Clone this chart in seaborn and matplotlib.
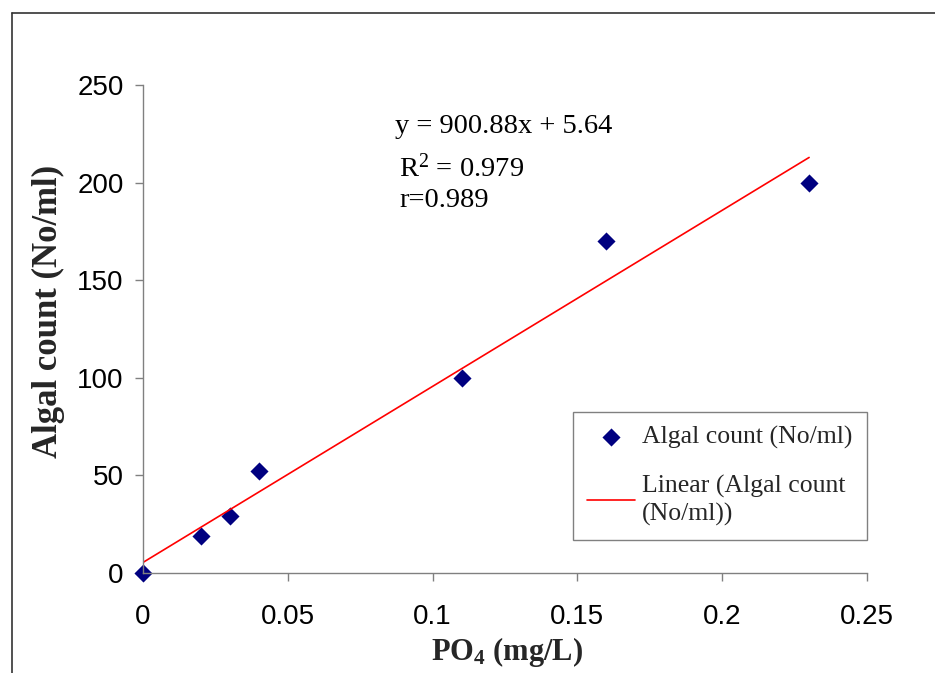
import matplotlib
matplotlib.use("Agg")
import matplotlib.pyplot as plt
from matplotlib.lines import Line2D
import seaborn as sns
import pandas as pd

# PO4 concentration vs algal count
po4 = [0.0, 0.02, 0.03, 0.04, 0.11, 0.16, 0.23]
algal_count = [0, 19, 29, 52, 100, 170, 200]
x_ticks = [0, 0.05, 0.1, 0.15, 0.2, 0.25]
x_tick_labels = ["0", "0.05", "0.1", "0.15", "0.2", "0.25"]
y_ticks = [0, 50, 100, 150, 200, 250]

df = pd.DataFrame({"PO4": po4, "Algal": algal_count})

sns.set_theme(style="white")
plt.rcParams["font.family"] = ["Liberation Sans", "DejaVu Sans"]
plt.rcParams["mathtext.fontset"] = "custom"
plt.rcParams["mathtext.rm"] = "Liberation Serif"
plt.rcParams["mathtext.it"] = "Liberation Serif:italic"
plt.rcParams["mathtext.bf"] = "Liberation Serif:bold"

fig = plt.figure(figsize=(9.35, 6.73), dpi=100)
ax = fig.add_axes([0.1529, 0.1486, 0.7744, 0.7251])

sns.regplot(data=df, x="PO4", y="Algal", ax=ax, ci=None, marker="D",
            label="Algal count (No/ml)",
            scatter_kws={"s": 85, "color": "#000080", "alpha": 1,
                         "clip_on": False, "linewidths": 0},
            line_kws={"color": "#ff0000", "lw": 1.2,
                      "label": "Linear (Algal count\n(No/ml))"})

ax.set_xlim(0, 0.25)
ax.set_ylim(0, 250)
ax.set_xticks(x_ticks)
ax.set_xticklabels(x_tick_labels)
ax.set_yticks(y_ticks)

for side in ["top", "right"]:
    ax.spines[side].set_visible(False)
for side in ["left", "bottom"]:
    ax.spines[side].set_color("#808080")
    ax.spines[side].set_linewidth(1.0)

ax.tick_params(axis="both", which="major", direction="out", length=6,
               width=1.0, color="#808080", labelsize=20, labelcolor="black",
               bottom=True, left=True)
ax.tick_params(axis="x", pad=16)
ax.tick_params(axis="y", pad=8)

ax.set_xlabel("PO$_\\mathbf{4}$ (mg/L)", fontfamily="Liberation Serif",
              fontweight="bold", fontsize=22)
ax.xaxis.set_label_coords(0.503, -0.128)
ax.set_ylabel("Algal count (No/ml)", fontfamily="Liberation Serif",
              fontweight="bold", fontsize=25)
ax.yaxis.set_label_coords(-0.108, 0.537)

serif = {"fontfamily": "Liberation Serif", "fontsize": 20.5, "color": "black"}
ax.text(0.087, 228.5, "y = 900.88x + 5.64", va="center", ha="left", **serif)
ax.text(0.0885, 207.5, "R$^2$ = 0.979", va="center", ha="left", **serif)
ax.text(0.0885, 191, "r=0.989", va="center", ha="left", **serif)

leg = ax.legend(loc="upper left", bbox_to_anchor=(0.594, 0.330),
                borderaxespad=0, frameon=True, fancybox=False,
                edgecolor="#808080", framealpha=1, borderpad=0.55,
                labelspacing=1.0, handlelength=1.87, handletextpad=0.27,
                prop={"family": "Liberation Serif", "size": 18.5})
leg.get_frame().set_linewidth(1.0)
for t in leg.get_texts():
    t.set_linespacing(1.25)

# outer chart-area border (left and top edges visible)
fig.add_artist(Line2D([11.5 / 935, 11.5 / 935], [0, 1 - 13 / 673],
                      transform=fig.transFigure, color="#333333", lw=1.2))
fig.add_artist(Line2D([11.5 / 935, 1], [1 - 13 / 673, 1 - 13 / 673],
                      transform=fig.transFigure, color="#333333", lw=1.2))

fig.savefig("out.png", dpi=100)
